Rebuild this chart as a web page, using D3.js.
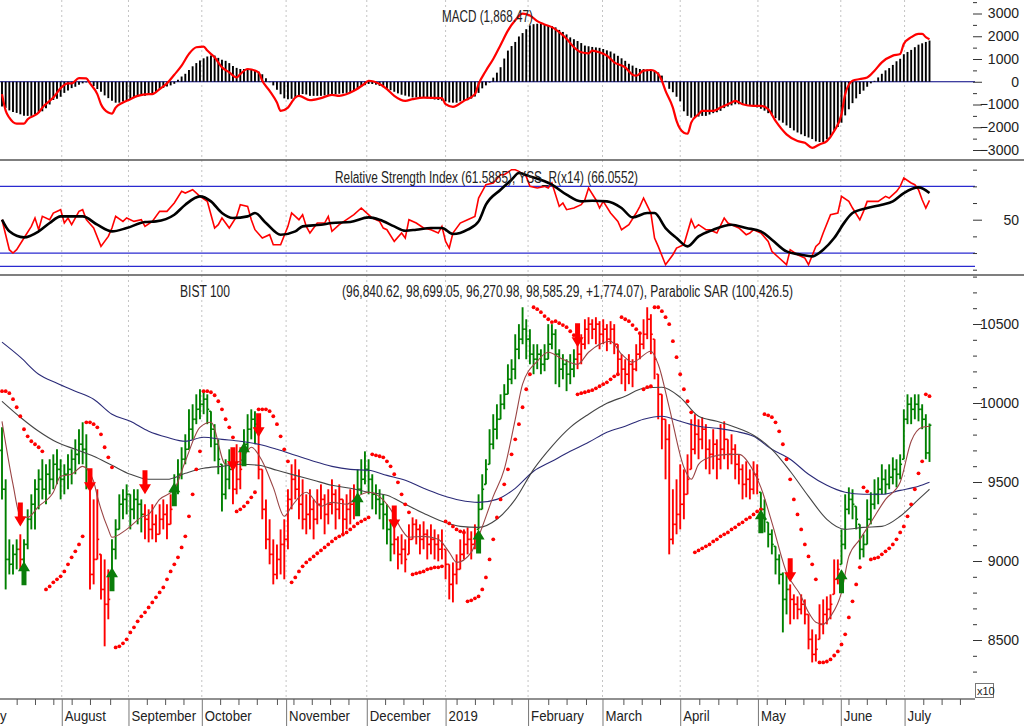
<!DOCTYPE html>
<html lang="en">
<head>
<meta charset="UTF-8">
<title>BIST 100</title>
<script src="https://cdnjs.cloudflare.com/ajax/libs/d3/7.8.5/d3.min.js"></script>
<style>
    body { margin: 0; background: #fff; }
    svg { display: block; }
    text { font-family: "Liberation Sans Narrow", "Arial Narrow", "Liberation Sans", Arial, sans-serif; fill: #222; }
</style>
</head>
<body>
<svg width="1024" height="726"></svg>
<script>
// daily bars, price /10
const opens = [
    9700, 9454, 9010, 8979, 9042, 9074, 9010, 9105, 9264, 9359,
    9454, 9517, 9454, 9549, 9517, 9612, 9580, 9517, 9549, 9580,
    9644, 9675, 9739, 9707, 9549, 8915, 9010, 9042, 8820, 8726,
    8884, 9074, 9200, 9359, 9390, 9422, 9327, 9390, 9359, 9295,
    9264, 9200, 9232, 9169, 9264, 9295, 9232, 9359, 9454, 9549,
    9644, 9707, 9834, 9897, 9960, 9992, 10024, 9948, 9834, 9739,
    9612, 9422, 9517, 9580, 9454, 9517, 9631, 9739, 9834, 9897,
    9866, 9580, 9327, 9137, 9042, 8915, 9010, 9105, 9137, 9390,
    9517, 9454, 9359, 9264, 9295, 9327, 9264, 9359, 9390, 9295,
    9359, 9422, 9327, 9390, 9264, 9327, 9359, 9390, 9454, 9517,
    9580, 9517, 9422, 9390, 9359, 9295, 9200, 9105, 9137, 9042,
    9074, 9042, 9137, 9232, 9200, 9137, 9169, 9105, 9137, 9105,
    9074, 9074, 8979, 8852, 8915, 8947, 9042, 9105, 9137, 9105,
    9200, 9327, 9485, 9612, 9739, 9834, 9897, 9992, 10055, 10150,
    10214, 10340, 10404, 10467, 10404, 10309, 10277, 10309, 10245, 10277,
    10372, 10435, 10309, 10214, 10245, 10182, 10214, 10277, 10309, 10372,
    10467, 10499, 10467, 10499, 10435, 10467, 10404, 10467, 10372, 10277,
    10214, 10182, 10245, 10214, 10309, 10372, 10435, 10530, 10404, 10182,
    10055, 9897, 9770, 9137, 9232, 9295, 9359, 9422, 9580, 9707,
    9802, 9770, 9834, 9707, 9675, 9739, 9644, 9707, 9770, 9675,
    9707, 9612, 9580, 9485, 9517, 9454, 9549, 9435, 9327, 9245,
    9169, 9093, 9010, 8915, 8757, 8820, 8757, 8726, 8694, 8726,
    8662, 8504, 8409, 8504, 8599, 8662, 8694, 8789, 8884, 8979,
    9105, 9327, 9390, 9346, 9232, 9074, 9105, 9264, 9359, 9422,
    9454, 9517, 9485, 9530, 9580, 9549, 9644, 9897, 9992, 9960,
    9992, 9960, 9897, 9684
];
const highs = [
    9846, 9517, 9137, 9105, 9137, 9169, 9137, 9327, 9422, 9517,
    9580, 9644, 9612, 9644, 9675, 9707, 9644, 9612, 9675, 9707,
    9770, 9834, 9878, 9802, 9549, 9390, 9454, 9042, 9010, 8947,
    9137, 9264, 9422, 9454, 9485, 9422, 9454, 9454, 9390, 9359,
    9327, 9359, 9295, 9359, 9390, 9359, 9422, 9549, 9644, 9720,
    9802, 9960, 9992, 10055, 10087, 10075, 10055, 9948, 9866, 9770,
    9612, 9644, 9707, 9707, 9739, 9720, 9834, 9929, 9960, 9948,
    9929, 9580, 9390, 9264, 9137, 9105, 9200, 9264, 9454, 9612,
    9644, 9580, 9517, 9422, 9454, 9390, 9454, 9485, 9422, 9454,
    9517, 9454, 9485, 9390, 9422, 9454, 9485, 9580, 9644, 9694,
    9644, 9549, 9485, 9454, 9422, 9359, 9264, 9232, 9156, 9169,
    9137, 9232, 9276, 9264, 9232, 9251, 9200, 9232, 9200, 9169,
    9200, 9074, 8979, 8991, 9042, 9137, 9200, 9213, 9188, 9232,
    9422, 9549, 9644, 9834, 9929, 9992, 10055, 10119, 10245, 10277,
    10435, 10499, 10606, 10530, 10467, 10372, 10372, 10340, 10372, 10499,
    10499, 10467, 10340, 10309, 10277, 10309, 10340, 10404, 10435, 10530,
    10543, 10530, 10543, 10518, 10530, 10499, 10518, 10499, 10372, 10309,
    10277, 10309, 10277, 10372, 10435, 10530, 10606, 10562, 10404, 10182,
    10055, 9897, 9866, 9454, 9517, 9612, 9580, 9675, 9897, 9929,
    9897, 9910, 9866, 9770, 9834, 9770, 9866, 9884, 9770, 9802,
    9739, 9675, 9612, 9631, 9580, 9631, 9612, 9435, 9390, 9245,
    9200, 9093, 9042, 8928, 8915, 8852, 8789, 8776, 8789, 8757,
    8662, 8567, 8536, 8726, 8757, 8776, 8789, 9010, 9010, 9200,
    9422, 9466, 9454, 9346, 9232, 9169, 9390, 9435, 9517, 9530,
    9612, 9580, 9612, 9656, 9644, 9675, 9960, 10055, 10036, 10055,
    10055, 9992, 9929, 9870
];
const lows = [
    9390, 8820, 8915, 8915, 8947, 8947, 8947, 9074, 9200, 9200,
    9327, 9390, 9359, 9422, 9454, 9485, 9390, 9422, 9454, 9485,
    9549, 9612, 9612, 9454, 8820, 8852, 9010, 8757, 8460, 8631,
    8884, 9010, 9200, 9264, 9295, 9200, 9264, 9232, 9181, 9137,
    9118, 9137, 9118, 9169, 9200, 9137, 9232, 9359, 9422, 9517,
    9612, 9707, 9770, 9866, 9897, 9929, 9866, 9720, 9631, 9549,
    9314, 9390, 9454, 9359, 9422, 9454, 9631, 9707, 9770, 9739,
    9517, 9264, 9074, 8979, 8852, 8884, 8915, 8884, 9074, 9327,
    9390, 9264, 9200, 9169, 9200, 9137, 9232, 9264, 9169, 9232,
    9295, 9200, 9264, 9156, 9200, 9232, 9264, 9359, 9422, 9485,
    9422, 9327, 9295, 9264, 9200, 9105, 8998, 9042, 8947, 8979,
    8928, 9042, 9137, 9105, 9042, 9074, 9010, 9042, 9010, 8998,
    9010, 8884, 8757, 8738, 8852, 8947, 9010, 9042, 9010, 9074,
    9200, 9327, 9485, 9612, 9707, 9770, 9897, 9960, 10055, 10119,
    10150, 10277, 10372, 10277, 10245, 10182, 10214, 10182, 10201, 10277,
    10340, 10119, 10100, 10150, 10075, 10119, 10163, 10214, 10245, 10340,
    10372, 10404, 10372, 10340, 10372, 10328, 10372, 10309, 10182, 10119,
    10075, 10119, 10100, 10201, 10277, 10340, 10404, 10309, 10150, 9897,
    9707, 9517, 9042, 9105, 9169, 9200, 9264, 9422, 9580, 9675,
    9644, 9707, 9580, 9549, 9580, 9517, 9580, 9644, 9580, 9612,
    9517, 9485, 9390, 9403, 9390, 9422, 9422, 9232, 9181, 9086,
    9042, 8915, 8852, 8548, 8662, 8599, 8631, 8631, 8662, 8599,
    8441, 8358, 8364, 8504, 8536, 8599, 8631, 8789, 8852, 8979,
    9074, 9295, 9264, 9200, 9010, 9023, 9105, 9232, 9327, 9359,
    9422, 9422, 9454, 9485, 9466, 9517, 9644, 9866, 9866, 9897,
    9884, 9834, 9644, 9627
];
const closes = [
    9454, 9010, 8979, 9042, 9074, 9010, 9105, 9264, 9359, 9454,
    9517, 9454, 9549, 9517, 9612, 9580, 9517, 9549, 9580, 9644,
    9675, 9739, 9707, 9580, 8915, 9010, 9137, 8820, 8726, 8757,
    9074, 9200, 9359, 9390, 9422, 9327, 9390, 9359, 9295, 9264,
    9200, 9232, 9169, 9264, 9295, 9232, 9327, 9454, 9549, 9644,
    9707, 9834, 9897, 9960, 9992, 10024, 9960, 9834, 9739, 9644,
    9422, 9517, 9580, 9454, 9517, 9580, 9739, 9834, 9897, 9866,
    9580, 9327, 9137, 9042, 8915, 9010, 9105, 9137, 9390, 9517,
    9454, 9359, 9264, 9295, 9327, 9264, 9359, 9390, 9295, 9359,
    9422, 9327, 9390, 9264, 9327, 9359, 9390, 9454, 9517, 9580,
    9517, 9422, 9390, 9359, 9295, 9200, 9105, 9137, 9042, 9074,
    9010, 9137, 9232, 9200, 9137, 9169, 9105, 9137, 9105, 9074,
    9105, 8979, 8852, 8915, 8947, 9042, 9105, 9137, 9105, 9169,
    9327, 9454, 9580, 9739, 9834, 9897, 9992, 10055, 10150, 10214,
    10340, 10404, 10467, 10404, 10309, 10277, 10309, 10245, 10277, 10372,
    10435, 10309, 10214, 10245, 10182, 10214, 10277, 10309, 10372, 10467,
    10499, 10467, 10499, 10435, 10467, 10404, 10467, 10372, 10277, 10214,
    10182, 10245, 10214, 10309, 10372, 10435, 10530, 10435, 10277, 10055,
    9897, 9770, 9137, 9232, 9295, 9359, 9422, 9517, 9707, 9802,
    9770, 9834, 9707, 9675, 9739, 9644, 9707, 9770, 9675, 9707,
    9612, 9580, 9485, 9517, 9454, 9549, 9517, 9327, 9264, 9169,
    9105, 9010, 8915, 8757, 8820, 8757, 8726, 8694, 8726, 8662,
    8504, 8409, 8441, 8599, 8662, 8694, 8726, 8884, 8947, 9105,
    9327, 9390, 9359, 9264, 9074, 9105, 9264, 9359, 9422, 9454,
    9517, 9485, 9530, 9580, 9549, 9612, 9897, 9992, 9960, 9992,
    9960, 9897, 9684, 9859
];
const sar = [
    10075, 10075, 10062, 10024, 9973, 9916, 9834, 9789, 9758, 9739,
    9720, 9694, 8820, 8839, 8865, 8884, 8903, 8934, 8979, 9023,
    9061, 9105, 9156, 9878, 9878, 9866, 9846, 9802, 9720, 9656,
    9593, 8453, 8460, 8479, 8504, 8548, 8580, 8618, 8650, 8675,
    8706, 8738, 8770, 8801, 8833, 8884, 8934, 8979, 9023, 9086,
    9156, 9283, 9422, 9580, 9694, 10075, 10075, 10068, 10049, 10011,
    9960, 9897, 9846, 9783, 9314, 9327, 9346, 9371, 9403, 9435,
    9960, 9960, 9960, 9948, 9916, 9866, 9789, 9707, 9631, 8865,
    8896, 8934, 8966, 8991, 9010, 9029, 9049, 9067, 9086, 9105,
    9124, 9143, 9156, 9169, 9181, 9200, 9219, 9238, 9251, 9264,
    9276, 9675, 9669, 9663, 9656, 9631, 9599, 9549, 9498, 9422,
    9359, 9308, 8915, 8922, 8928, 8934, 8947, 8953, 8960, 8960,
    8966, 9251, 9238, 9219, 9200, 9188, 9181, 8745, 8751, 8764,
    8776, 8820, 8896, 9010, 9137, 9276, 9390, 9485, 9580, 9675,
    9770, 9866, 9973, 10087, 10182, 10606, 10594, 10575, 10550, 10530,
    10512, 10518, 10505, 10493, 10480, 10454, 10429, 10055, 10062, 10068,
    10075, 10081, 10093, 10106, 10119, 10131, 10150, 10169, 10182, 10543,
    10530, 10518, 10493, 10467, 10442, 10087, 10100, 10106, 10606, 10606,
    10581, 10543, 10499, 10391, 10290, 10182, 10087, 10011, 9941, 9055,
    9067, 9080, 9093, 9105, 9124, 9137, 9156, 9169, 9181, 9200,
    9213, 9232, 9245, 9264, 9276, 9295, 9314, 9327, 9929, 9922,
    9910, 9878, 9821, 9739, 9644, 9517, 9390, 9295, 9200, 9105,
    9029, 8979, 8884, 8358, 8358, 8364, 8377, 8402, 8428, 8472,
    8536, 8643, 8745, 8852, 8960, 9466, 9441, 9010, 9017, 9023,
    9042, 9061, 9080, 9105, 9137, 9181, 9219, 9283, 9359, 9454,
    9555, 9631, 10055, 10043
];
const macdHist = [
    -1090, -1150, -1260, -1330, -1370, -1430, -1490, -1500, -1500, -1430,
    -1370, -1300, -1160, -1000, -800, -750, -660, -490, -390, -280,
    -220, -130, -70, -30, -30, -190, -320, -440, -600, -720,
    -840, -920, -920, -870, -820, -760, -710, -650, -620, -620,
    -560, -510, -460, -330, -270, -210, -160, -90, 90, 230,
    350, 520, 680, 820, 930, 1030, 1110, 1150, 1150, 1050,
    970, 920, 820, 690, 610, 560, 560, 560, 550, 490,
    440, 330, 150, -20, -160, -350, -550, -730, -770, -750,
    -690, -590, -540, -560, -620, -620, -620, -620, -600, -580,
    -560, -550, -530, -510, -490, -470, -390, -310, -220, -150,
    -100, -100, -130, -180, -240, -320, -370, -440, -510, -570,
    -610, -650, -690, -690, -690, -710, -730, -760, -780, -800,
    -830, -860, -910, -920, -920, -860, -840, -810, -740, -650,
    -490, -290, -160, -40, 180, 400, 640, 1020, 1370, 1570,
    1750, 1990, 2140, 2310, 2480, 2530, 2550, 2550, 2520, 2490,
    2450, 2390, 2280, 2190, 2080, 1950, 1870, 1790, 1700, 1590,
    1560, 1530, 1510, 1490, 1440, 1380, 1330, 1240, 1140, 1030,
    920, 790, 710, 610, 560, 560, 540, 500, 460, 410,
    270, 40, -310, -460, -660, -860, -1300, -1500, -1580, -1580,
    -1530, -1500, -1500, -1440, -1380, -1340, -1280, -1160, -1090, -1040,
    -990, -990, -1000, -1030, -1060, -1090, -1130, -1190, -1270, -1380,
    -1490, -1600, -1700, -1800, -1920, -2030, -2140, -2230, -2310, -2390,
    -2450, -2520, -2620, -2650, -2650, -2530, -2380, -2150, -1990, -1800,
    -1480, -1210, -940, -730, -540, -390, -220, -70, 40, 190,
    350, 500, 600, 740, 900, 1010, 1210, 1310, 1400, 1520,
    1630, 1690, 1750, 1810
];

// MACD line read at selected bars
const macdIdx = [0, 1, 2, 4, 6, 7, 10, 11, 14, 16, 18, 19, 21, 23, 24, 26, 27, 29, 30, 31, 33, 35, 37, 40, 41, 43, 45, 47, 49, 51, 53, 55, 56, 58, 60, 62, 64, 65, 67, 70, 71, 73, 75, 76, 78, 80, 81, 84, 87, 90, 92, 96, 99, 100, 103, 105, 107, 110, 112, 115, 120, 121, 123, 126, 129, 130, 132, 134, 136, 138, 140, 142, 144, 146, 148, 150, 152, 154, 156, 158, 160, 161, 163, 165, 167, 170, 172, 173, 175, 177, 179, 180, 181, 183, 184, 186, 187, 188, 190, 191, 194, 196, 199, 200, 202, 205, 207, 209, 211, 214, 217, 219, 221, 223, 225, 227, 229, 230, 232, 234, 236, 238, 240, 243, 245, 246, 248, 250, 251, 252, 253];
const macdVal = [-545, -1270, -1578, -1842, -1842, -1650, -1355, -1135, -694, -280, -71, -71, 163, 150, -71, -545, -987, -1355, -1400, -1135, -915, -765, -619, -545, -545, -323, -71, 309, 707, 1224, 1516, 1547, 1370, 1074, 632, 411, 190, 340, 561, 411, 44, -398, -915, -1282, -1135, -694, -619, -809, -720, -575, -619, -398, -75, 44, -102, -323, -619, -840, -765, -694, -720, -987, -1105, -840, -545, -102, 486, 1003, 1620, 2250, 2700, 2992, 2917, 2665, 2519, 2400, 2179, 1887, 1516, 1295, 1250, 1370, 1295, 1149, 853, 632, 309, 265, 486, 517, 340, 44, -398, -1135, -1724, -2241, -2285, -1799, -1428, -1282, -1282, -1136, -915, -840, -987, -1061, -1061, -1207, -1724, -2312, -2608, -2683, -2904, -2754, -2608, -2166, -1428, -545, 44, 119, 190, 486, 853, 1149, 1224, 1666, 1958, 2108, 2108, 1958, 1868];

// RSI and its average
const rsiIdx = [0, 1, 2, 3, 4, 6, 8, 9, 10, 11, 13, 14, 16, 17, 18, 19, 21, 22, 23, 25, 27, 29, 30, 31, 33, 34, 36, 38, 39, 41, 43, 45, 47, 49, 50, 52, 54, 56, 58, 59, 60, 62, 64, 65, 67, 68, 69, 71, 73, 74, 76, 78, 79, 81, 82, 83, 84, 86, 88, 89, 90, 92, 94, 96, 98, 99, 101, 103, 104, 105, 107, 109, 110, 111, 113, 115, 117, 119, 120, 121, 122, 123, 125, 127, 129, 130, 132, 134, 136, 137, 139, 140, 141, 143, 144, 146, 148, 149, 150, 152, 153, 154, 156, 158, 159, 160, 162, 163, 164, 166, 168, 169, 171, 173, 174, 175, 177, 178, 179, 181, 183, 184, 186, 188, 189, 190, 192, 193, 195, 197, 198, 199, 201, 203, 204, 205, 207, 209, 210, 212, 214, 215, 217, 219, 220, 222, 223, 224, 226, 228, 229, 231, 232, 234, 235, 236, 238, 239, 241, 242, 244, 245, 246, 248, 249, 250, 251, 252, 253];
const rsiVal = [50, 41, 32, 30, 32, 39, 46, 51, 44, 52, 50, 54, 56, 48, 51, 47, 55, 56, 50, 45, 34, 40, 45, 52, 49, 51, 49, 50, 46, 49, 55, 55, 60, 67, 66, 68, 64, 61, 45, 47, 51, 45, 52, 59, 58, 50, 44, 39, 41, 35, 35, 46, 54, 50, 53, 46, 42, 48, 48, 52, 43, 47, 50, 53, 57, 55, 51, 49, 45, 44, 37, 42, 39, 50, 48, 45, 44, 42, 46, 37, 33, 42, 48, 50, 52, 63, 71, 72, 77, 77, 80, 80, 79, 76, 70, 69, 70, 69, 72, 58, 60, 56, 57, 59, 62, 69, 62, 57, 61, 54, 49, 44, 47, 54, 58, 63, 54, 39, 34, 23, 29, 33, 35, 50, 45, 47, 44, 44, 42, 51, 48, 47, 45, 41, 42, 44, 42, 37, 31, 27, 23, 32, 29, 27, 23, 34, 36, 42, 53, 54, 64, 61, 57, 50, 55, 61, 61, 61, 64, 63, 67, 70, 75, 72, 71, 68, 62, 57, 61.59];
const rsiAvgIdx = [0, 2, 6, 10, 13, 16, 22, 26, 30, 34, 39, 42, 47, 50, 54, 57, 60, 63, 67, 69, 72, 76, 80, 82, 87, 90, 95, 100, 103, 107, 110, 113, 117, 120, 123, 127, 130, 132, 136, 139, 141, 144, 150, 154, 158, 161, 165, 169, 172, 176, 178, 181, 184, 187, 190, 194, 199, 203, 207, 210, 214, 218, 221, 224, 227, 230, 232, 236, 240, 243, 246, 250, 253];
const rsiAvgVal = [50, 43, 39.4, 43, 48, 52, 52, 47, 43, 45, 48.6, 49, 53, 59, 64, 61, 54, 51, 52, 54, 48, 41, 43, 46, 47, 48, 48.6, 51.4, 50, 46, 43.4, 44, 45, 45, 41.4, 44, 49, 59, 68, 74, 78, 76, 71, 65, 61, 61.4, 61, 57, 51.4, 54, 54, 45, 39, 34, 40, 44, 47, 45, 43, 38, 31, 29, 28, 32, 39, 49, 54, 57, 59, 61, 66, 69.4, 66.06];

// moving averages read at selected bars
const maSlowIdx = [0, 5, 10, 15, 20, 25, 30, 35, 40, 45, 50, 55, 60, 65, 70, 75, 80, 85, 90, 95, 100, 105, 110, 115, 120, 125, 130, 135, 140, 145, 150, 155, 160, 165, 170, 175, 180, 185, 190, 195, 200, 205, 210, 215, 220, 225, 230, 235, 240, 245, 250, 253];
const maSlowVal = [10385, 10290, 10182, 10125, 10075, 10024, 9929, 9884, 9821, 9783, 9758, 9783, 9770, 9758, 9739, 9707, 9669, 9631, 9599, 9580, 9574, 9542, 9511, 9460, 9416, 9384, 9371, 9390, 9460, 9568, 9631, 9694, 9751, 9815, 9853, 9897, 9916, 9884, 9853, 9840, 9821, 9789, 9707, 9644, 9549, 9479, 9435, 9422, 9422, 9447, 9473, 9498];
const maMidIdx = maSlowIdx;
const maMidVal = [10011, 9910, 9821, 9751, 9707, 9663, 9606, 9549, 9517, 9517, 9555, 9587, 9599, 9612, 9606, 9574, 9542, 9511, 9479, 9460, 9435, 9416, 9359, 9302, 9251, 9219, 9213, 9264, 9390, 9580, 9726, 9846, 9929, 9998, 10043, 10093, 10100, 10036, 9916, 9884, 9846, 9796, 9707, 9568, 9409, 9264, 9200, 9213, 9219, 9283, 9390, 9454];
const maFastIdx = [0, 3, 5, 7, 10, 14, 16, 19, 22, 25, 26, 29, 30, 34, 38, 40, 43, 47, 50, 54, 57, 61, 65, 68, 71, 74, 77, 79, 83, 87, 90, 94, 97, 100, 106, 109, 111, 115, 119, 122, 124, 128, 130, 134, 137, 140, 142, 146, 149, 153, 157, 160, 166, 169, 172, 177, 179, 182, 186, 188, 190, 193, 198, 201, 205, 207, 210, 214, 218, 220, 222, 224, 226, 229, 231, 234, 237, 241, 245, 248, 251, 253];
const maFastVal = [9884, 9485, 9283, 9276, 9346, 9435, 9536, 9549, 9599, 9504, 9409, 9200, 9150, 9200, 9276, 9295, 9390, 9454, 9631, 9846, 9878, 9612, 9631, 9720, 9631, 9466, 9283, 9346, 9435, 9346, 9371, 9359, 9409, 9435, 9327, 9200, 9150, 9156, 9137, 9055, 8991, 9055, 9156, 9409, 9580, 9897, 10119, 10264, 10321, 10277, 10245, 10321, 10391, 10309, 10258, 10328, 10245, 9973, 9593, 9517, 9612, 9656, 9675, 9675, 9568, 9466, 9245, 8928, 8776, 8675, 8612, 8599, 8650, 8801, 9029, 9137, 9245, 9390, 9498, 9758, 9846, 9853];

// buy / sell signals
const sigIdx = [5, 6, 24, 30, 39, 47, 63, 66, 70, 97, 107, 130, 157, 207, 215, 229];
const sigType = ["sell", "buy", "sell", "buy", "sell", "buy", "sell", "buy", "sell", "buy", "sell", "buy", "sell", "buy", "sell", "buy"];
const sigTip = [9219, 8998, 9435, 8960, 9422, 9498, 9568, 9751, 9783, 9435, 9200, 9200, 10353, 9327, 8865, 8947];

// time axis
const monthLabels = ["July", "August", "September", "October", "November", "December", "2019", "February", "March", "April", "May", "June", "July"];
const monthPos = [-6, 16.3, 34.5, 54.5, 77.5, 99.5, 121, 143.5, 163.8, 185, 206.2, 228.8, 246.2];
const weekPos = [4, 9, 14, 19, 24, 29.5, 39.5, 44.5, 49.5, 59.5, 64.5, 69.5, 75, 79.5, 84.5, 89.5, 94.5, 104.5, 109.5, 114.8, 124, 129, 134, 139, 149, 154, 159.3, 169.5, 174.5, 179.5, 190.2, 195.4, 200.4, 208.6, 213.6, 218.6, 223.8, 230.9, 235.9, 241.1, 251.3, 256.3, 261.3];

const priceMajor = [8500, 9000, 9500, 10000, 10500];
const priceMinor = d3.range(8300, 10801, 100);
const macdMajor = [-3000, -2000, -1000, 0, 1000, 2000, 3000];
const macdMinor = [-2500, -1500, -500, 500, 1500, 2500, 3500];
const rsiMinor = [20, 30, 40, 60, 70, 80];
const rsiLevels = [70, 30, 22];

const macdTitle = "MACD (1,868.47)";
const rsiTitle = "Relative Strength Index (61.5885), YSS_R(x14) (66.0552)";
const priceName = "BIST 100";
const priceInfo = "(96,840.62, 98,699.05, 96,270.98, 98,585.29, +1,774.07), Parabolic SAR (100,426.5)";

const FONT = '"Liberation Sans Narrow", "Arial Narrow", "Liberation Sans", Arial, sans-serif';
const svg = d3.select("svg");
const N = closes.length;

const x = d3.scaleLinear().domain([0, N - 1]).range([2, 929.5]);
const yMacd = d3.scaleLinear().domain([-3000, 3000]).range([150, 13.5]);
const yRsi = d3.scaleLinear().domain([20, 80]).range([269.7, 169.7]);
const yPx = d3.scaleLinear().domain([8500, 10500]).range([640, 324]);

// month grid
svg.append("g").selectAll("line")
    .data(monthPos.slice(1))
    .join("line")
    .attr("x1", d => x(d)).attr("x2", d => x(d))
    .attr("y1", 0).attr("y2", 699)
    .attr("stroke", "#c4c4c4")
    .attr("stroke-dasharray", "2,3");

// panel separators
[160, 275].forEach(yy => {
    svg.append("line").attr("x1", 0).attr("x2", 1024).attr("y1", yy).attr("y2", yy)
        .attr("stroke", "#555").attr("stroke-width", 1.5);
});

// ---- MACD panel
svg.append("line")
    .attr("x1", 0).attr("x2", 975).attr("y1", yMacd(0)).attr("y2", yMacd(0))
    .attr("stroke", "#000080").attr("stroke-width", 1.2);

svg.append("g").selectAll("line")
    .data(macdHist)
    .join("line")
    .attr("x1", (d, i) => x(i)).attr("x2", (d, i) => x(i))
    .attr("y1", yMacd(0)).attr("y2", d => yMacd(d))
    .attr("stroke", "#000").attr("stroke-width", 1.9);

svg.append("path")
    .datum(macdIdx.map((d, i) => [d, macdVal[i]]))
    .attr("fill", "none").attr("stroke", "#f00").attr("stroke-width", 2.2)
    .attr("d", d3.line().x(d => x(d[0])).y(d => yMacd(d[1])).curve(d3.curveMonotoneX));

// ---- RSI panel
svg.append("g").selectAll("line")
    .data(rsiLevels)
    .join("line")
    .attr("x1", 0).attr("x2", 975).attr("y1", d => yRsi(d)).attr("y2", d => yRsi(d))
    .attr("stroke", "#2a2ad0").attr("stroke-width", 1.3);

svg.append("path")
    .datum(rsiIdx.map((d, i) => [d, rsiVal[i]]))
    .attr("fill", "none").attr("stroke", "#f00").attr("stroke-width", 1.6)
    .attr("d", d3.line().x(d => x(d[0])).y(d => yRsi(d[1])));

svg.append("path")
    .datum(rsiAvgIdx.map((d, i) => [d, rsiAvgVal[i]]))
    .attr("fill", "none").attr("stroke", "#000").attr("stroke-width", 2.6)
    .attr("d", d3.line().x(d => x(d[0])).y(d => yRsi(d[1])).curve(d3.curveMonotoneX));

// ---- price panel
const bars = d3.range(N).map(i => {
    let state = "buy";
    sigIdx.forEach((s, k) => { if (s <= i) state = sigType[k]; });
    return { i, o: opens[i], h: highs[i], l: lows[i], c: closes[i], col: state === "buy" ? "#008000" : "#f00" };
});

const gBars = svg.append("g");
gBars.selectAll("line.hl").data(bars).join("line").attr("class", "hl")
    .attr("x1", d => x(d.i)).attr("x2", d => x(d.i))
    .attr("y1", d => yPx(d.h)).attr("y2", d => yPx(d.l))
    .attr("stroke", d => d.col).attr("stroke-width", 1.9);
gBars.selectAll("line.op").data(bars).join("line").attr("class", "op")
    .attr("x1", d => x(d.i) - 1.9).attr("x2", d => x(d.i))
    .attr("y1", d => yPx(d.o)).attr("y2", d => yPx(d.o))
    .attr("stroke", d => d.col).attr("stroke-width", 1.6);
gBars.selectAll("line.cl").data(bars).join("line").attr("class", "cl")
    .attr("x1", d => x(d.i)).attr("x2", d => x(d.i) + 1.9)
    .attr("y1", d => yPx(d.c)).attr("y2", d => yPx(d.c))
    .attr("stroke", d => d.col).attr("stroke-width", 1.6);

const maLine = d3.line().x(d => x(d[0])).y(d => yPx(d[1])).curve(d3.curveMonotoneX);
[[maSlowIdx, maSlowVal, "#2b2b78"], [maMidIdx, maMidVal, "#454545"], [maFastIdx, maFastVal, "#9a4545"]]
    .forEach(([idx, val, col]) => {
        svg.append("path")
            .datum(idx.map((d, i) => [d, val[i]]))
            .attr("fill", "none").attr("stroke", col).attr("stroke-width", 1.1)
            .attr("d", maLine);
    });

svg.append("g").selectAll("circle")
    .data(sar)
    .join("circle")
    .attr("cx", (d, i) => x(i)).attr("cy", d => yPx(d))
    .attr("r", 1.9).attr("fill", "#f00");

// signal arrows (tip at 0,0)
const downArrow = "M0,0 L-6,-10 L-2.5,-10 L-2.5,-24 L2.5,-24 L2.5,-10 L6,-10 Z";
const upArrow = "M0,0 L-6,10 L-2.5,10 L-2.5,24 L2.5,24 L2.5,10 L6,10 Z";
svg.append("g").selectAll("path")
    .data(sigIdx.map((d, k) => ({ i: d, t: sigType[k], p: sigTip[k] })))
    .join("path")
    .attr("transform", d => `translate(${x(d.i)},${yPx(d.p)})`)
    .attr("d", d => d.t === "sell" ? downArrow : upArrow)
    .attr("fill", d => d.t === "sell" ? "#f00" : "#0a7d0a");

// ---- right axes
function rightAxis(scale, major, minor, fmt) {
    const gm = svg.append("g").attr("transform", "translate(973,0)")
        .call(d3.axisRight(scale).tickValues(minor).tickSize(4).tickFormat(""));
    gm.select(".domain").remove();
    gm.attr("color", "#333");
    const g = svg.append("g").attr("transform", "translate(973,0)")
        .call(d3.axisRight(scale).tickValues(major).tickSize(9).tickFormat(fmt));
    g.select(".domain").remove();
    g.attr("color", "#333").attr("font-family", FONT).attr("font-size", 14);
    g.selectAll("text").attr("x", 46).attr("text-anchor", "end").style("fill", "#222");
}
rightAxis(yMacd, macdMajor, macdMinor, d3.format("d"));
rightAxis(yRsi, [50], rsiMinor, d3.format("d"));
rightAxis(yPx, priceMajor, priceMinor, d3.format("d"));

// x10 box
svg.append("rect").attr("x", 975.5).attr("y", 683.5).attr("width", 18).attr("height", 14)
    .attr("fill", "none").attr("stroke", "#777");
svg.append("text").attr("x", 977).attr("y", 695).attr("font-size", 11).text("x10");

// ---- time axis
const xa = svg.append("g").attr("transform", "translate(0,699)");
xa.append("line").attr("x1", 0).attr("x2", 975).attr("stroke", "#222").attr("stroke-width", 1.2);
const wk = svg.append("g").attr("transform", "translate(0,699)")
    .call(d3.axisBottom(x).tickValues(weekPos).tickSize(6).tickFormat(""));
wk.select(".domain").remove();
wk.attr("color", "#555");
const mo = svg.append("g").attr("transform", "translate(0,699)")
    .call(d3.axisBottom(x).tickValues(monthPos).tickSize(27).tickFormat((d, i) => monthLabels[i]));
mo.select(".domain").remove();
mo.attr("color", "#777").attr("font-family", FONT).attr("font-size", 15);
mo.selectAll("text")
    .attr("text-anchor", "start").attr("x", 2.5).attr("y", 11).attr("dy", "0.71em")
    .style("fill", "#222")
    .each(function () {
        const w = this.getComputedTextLength();
        d3.select(this).attr("textLength", w * 0.88).attr("lengthAdjust", "spacingAndGlyphs");
    });

// ---- titles
svg.append("text").attr("x", 442).attr("y", 21.5).attr("font-size", 16)
    .attr("textLength", 91).attr("lengthAdjust", "spacingAndGlyphs").text(macdTitle);
svg.append("text").attr("x", 335).attr("y", 182.5).attr("font-size", 16)
    .attr("textLength", 303).attr("lengthAdjust", "spacingAndGlyphs").text(rsiTitle);
svg.append("text").attr("x", 180).attr("y", 296.5).attr("font-size", 16)
    .attr("textLength", 50).attr("lengthAdjust", "spacingAndGlyphs").text(priceName);
svg.append("text").attr("x", 342).attr("y", 296.5).attr("font-size", 16)
    .attr("textLength", 451).attr("lengthAdjust", "spacingAndGlyphs").text(priceInfo);
</script>
</body>
</html>
